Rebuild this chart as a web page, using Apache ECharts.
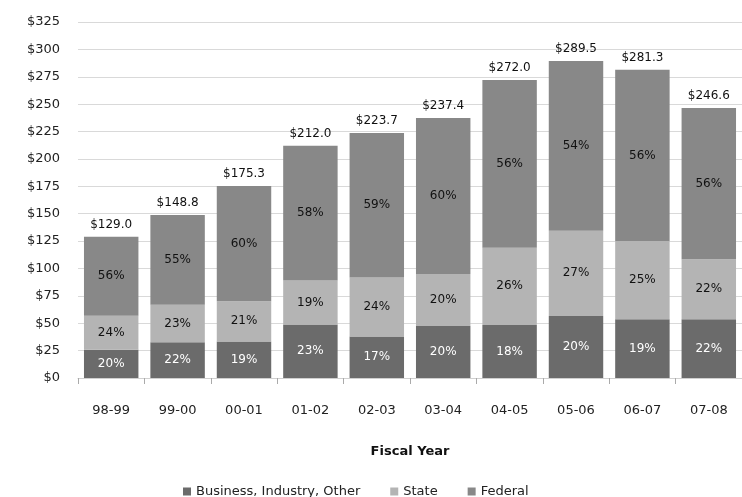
<!DOCTYPE html>
<html>
<head>
<meta charset="utf-8">
<script src="https://cdn.jsdelivr.net/npm/echarts@6/dist/echarts.min.js"></script>
<style>
  html, body { margin: 0; padding: 0; background: #fff; }
  #chart { width: 742px; height: 497px; }
</style>
</head>
<body>
<div id="chart"></div>
<script>
// fiscal years
var years = ["98-99", "99-00", "00-01", "01-02", "02-03", "03-04", "04-05", "05-06", "06-07", "07-08"];
// spending in $ millions
var business = [25.8, 32.7, 33.3, 48.8, 38.0, 47.5, 48.3, 56.6, 53.6, 53.6];
var state = [31.0, 34.2, 36.8, 40.3, 53.7, 47.5, 70.7, 77.9, 71.5, 54.8];
var federal = [72.2, 81.9, 105.2, 122.9, 132.0, 142.4, 153.0, 155.0, 156.2, 138.2];
var yTicks = [0, 25, 50, 75, 100, 125, 150, 175, 200, 225, 250, 275, 300, 325];

var totals = years.map(function (y, i) {
  return business[i] + state[i] + federal[i];
});

var chart = echarts.init(document.getElementById("chart"));
var font = "DejaVu Sans";

function pctLabel(color) {
  return {
    show: true,
    position: "inside",
    color: color,
    fontFamily: font,
    fontSize: 12,
    formatter: function (p) {
      return Math.round((p.value / totals[p.dataIndex]) * 100) + "%";
    }
  };
}

chart.setOption({
  animation: false,
  textStyle: { fontFamily: font },
  grid: { left: 78, top: 22, width: 664, height: 356 },
  legend: {
    top: 480,
    left: 178,
    itemWidth: 8,
    itemHeight: 8,
    itemGap: 30,
    icon: "rect",
    textStyle: { fontSize: 13, color: "#222" },
    data: ["Business, Industry, Other", "State", "Federal"]
  },
  xAxis: {
    type: "category",
    data: years,
    name: "Fiscal Year",
    nameLocation: "middle",
    nameGap: 67,
    nameTextStyle: { fontSize: 13, fontWeight: "bold", color: "#111" },
    axisLine: { show: true, lineStyle: { color: "#d0d0d0" } },
    axisTick: { show: true, length: 6, lineStyle: { color: "#aaa" } },
    axisLabel: { margin: 26, fontSize: 13, color: "#222" }
  },
  yAxis: {
    type: "value",
    min: yTicks[0],
    max: yTicks[yTicks.length - 1],
    interval: 25,
    axisLine: { show: false },
    axisTick: { show: false },
    axisLabel: {
      margin: 18,
      fontSize: 13,
      color: "#222",
      formatter: function (v) { return "$" + v; }
    },
    splitLine: { lineStyle: { color: "#d9d9d9" } }
  },
  series: [
    {
      name: "Business, Industry, Other",
      type: "bar",
      stack: "all",
      barCategoryGap: "18%",
      data: business,
      itemStyle: { color: "#6b6b6b" },
      label: pctLabel("#fff")
    },
    {
      name: "State",
      type: "bar",
      stack: "all",
      data: state,
      itemStyle: { color: "#b4b4b4" },
      label: pctLabel("#111")
    },
    {
      name: "Federal",
      type: "bar",
      stack: "all",
      data: federal,
      itemStyle: { color: "#888888" },
      label: pctLabel("#111")
    },
    {
      // zero-height bar on top of the stack just to carry the total label
      name: "total",
      type: "bar",
      stack: "all",
      data: years.map(function () { return 0; }),
      itemStyle: { color: "transparent" },
      label: {
        show: true,
        position: "top",
        distance: 6,
        color: "#111",
        fontSize: 12,
        formatter: function (p) { return "$" + totals[p.dataIndex].toFixed(1); }
      }
    }
  ]
});
</script>
</body>
</html>
